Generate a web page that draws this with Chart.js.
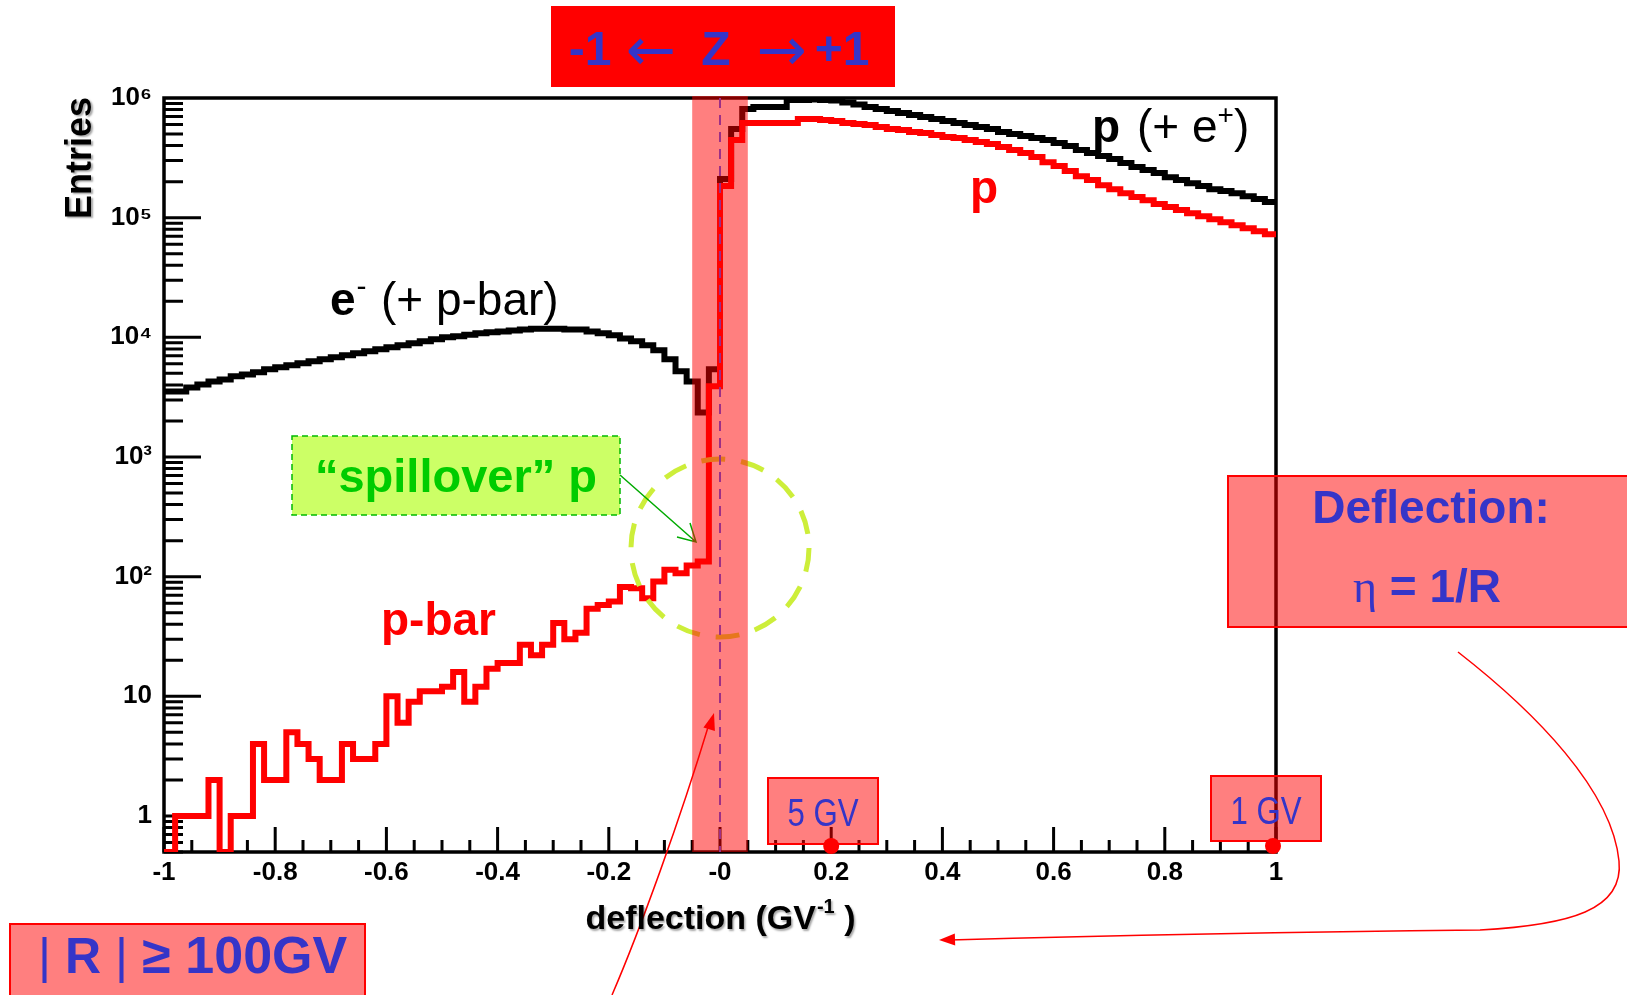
<!DOCTYPE html>
<html>
<head>
<meta charset="utf-8">
<script src="https://cdn.jsdelivr.net/npm/chart.js@4.4.1/dist/chart.umd.min.js"></script>
<style>
  html, body { margin: 0; padding: 0; background: #fff; }
</style>
</head>
<body>
<canvas id="myChart" width="1627" height="995"></canvas>
<script>
// ----------------------------- data -----------------------------
// deflection histogram, 100 bins from -1 to 1 (GV^-1)
const xMin = -1, xMax = 1;
const yMin = 0.5, yMax = 1e6;

// black: e- (+ p-bar), bins 0..49
const eMinusCounts = [3530, 3530, 3815, 4040, 4270, 4450, 4720, 4900, 5100, 5400,
  5610, 5830, 6060, 6300, 6550, 6800, 7070, 7350, 7640, 7940,
  8250, 8570, 8910, 9260, 9620, 10000, 10200, 10500, 10800, 11000,
  11200, 11400, 11600, 11800, 11800, 11800, 11600, 11600, 11200, 10800,
  10400, 9800, 9260, 8570, 7800, 6550, 5200, 4270, 2350, 5400];
// black: p (+ e+), bins 50..99
const pPlusCounts = [210000, 550000, 809000, 841000, 841000, 841000, 962000, 962000, 971000, 962000,
  953000, 916000, 883000, 841000, 809000, 779000, 749000, 720000, 693000, 667000,
  642000, 618000, 595000, 572000, 551000, 520000, 500000, 481000, 463000, 446000,
  420000, 397000, 367000, 347000, 327000, 309000, 286000, 265000, 250000, 236000,
  218000, 206000, 194000, 184000, 173000, 167000, 160000, 151000, 143000, 135000];
// red: p-bar, bins 0..49
const pbarCounts = [0, 1, 1, 1, 2, 0, 1, 1, 4, 2,
  2, 5, 4, 3, 2, 2, 4, 3, 3, 4,
  10, 6, 9, 11, 11, 12, 16, 9, 12, 17,
  19, 19, 27, 22, 27, 41, 30, 34, 54, 58,
  62, 82, 80, 66, 91, 114, 107, 124, 134, 3900];
// red: p, bins 50..99
const protonCounts = [184000, 446000, 618000, 618000, 618000, 618000, 618000, 667000, 667000, 654000,
  642000, 618000, 606000, 595000, 572000, 551000, 540000, 520000, 510000, 490000,
  472000, 463000, 446000, 429000, 412000, 389000, 367000, 347000, 321000, 291000,
  270000, 245000, 222000, 206000, 187000, 173000, 160000, 149000, 140000, 130000,
  123000, 116000, 109000, 103000, 97100, 91600, 86500, 81700, 77100, 72800];

const xTicks = [-1, -0.8, -0.6, -0.4, -0.2, 0, 0.2, 0.4, 0.6, 0.8, 1];
const xTickLabels = ['-1', '-0.8', '-0.6', '-0.4', '-0.2', '-0', '0.2', '0.4', '0.6', '0.8', '1'];
const yTicks = [1, 10, 100, 1e3, 1e4, 1e5, 1e6];
const yTickLabels = ['1', '10', '10²', '10³', '10⁴', '10⁵', '10⁶'];

// ROOT style: empty bins sit on the frame bottom
function histPoints(counts) {
  const w = (xMax - xMin) / counts.length;
  const pts = counts.map((c, i) => ({ x: xMin + i * w, y: c > 0 ? c : yMin }));
  pts.push({ x: xMax, y: pts[pts.length - 1].y });
  return pts;
}

const SANS = '"Liberation Sans", Arial, sans-serif';
const BLUE = '#3535c8';
const PINK = 'rgba(255,0,0,0.5)';

function txt(ctx, s, x, y, font, color, align) {
  ctx.font = font;
  ctx.fillStyle = color;
  ctx.textAlign = align || 'left';
  ctx.textBaseline = 'alphabetic';
  ctx.fillText(s, x, y);
  return ctx.measureText(s).width;
}

// narrow text by squeezing the glyphs horizontally
function narrowTxt(ctx, s, cx, y, size, color) {
  ctx.save();
  ctx.translate(cx, y);
  ctx.scale(0.8, 1);
  txt(ctx, s, 0, 0, size + 'px ' + SANS, color, 'center');
  ctx.restore();
}

function arrowHead(ctx, tx, ty, dx, dy, len, half) {
  const n = Math.hypot(dx, dy), ux = dx / n, uy = dy / n;
  ctx.beginPath();
  ctx.moveTo(tx, ty);
  ctx.lineTo(tx - ux * len - uy * half, ty - uy * len + ux * half);
  ctx.lineTo(tx - ux * len + uy * half, ty - uy * len - ux * half);
  ctx.closePath();
  ctx.fill();
}

// ----------------------------- frame + ROOT ticks -----------------------------
const rootFrame = {
  id: 'rootFrame',
  beforeDatasetsDraw(chart) {
    const { ctx, chartArea: a, scales: { x, y } } = chart;
    ctx.save();
    ctx.strokeStyle = '#000';
    ctx.lineWidth = 3;
    ctx.beginPath();
    for (let e = -1; e < 6; e++) {
      for (let k = 1; k < 10; k++) {
        const v = k * Math.pow(10, e);
        if (v < yMin - 1e-9 || v > yMax) continue;
        const py = y.getPixelForValue(v);
        ctx.moveTo(a.left, py);
        ctx.lineTo(a.left + (k === 1 ? 37 : 19), py);
      }
    }
    for (let i = 0; i <= 40; i++) {
      const px = x.getPixelForValue(-1 + i * 0.05);
      ctx.moveTo(px, a.bottom);
      ctx.lineTo(px, a.bottom - (i % 4 === 0 ? 25 : 12));
    }
    ctx.stroke();
    ctx.lineWidth = 3.5;
    ctx.strokeRect(a.left, a.top, a.right - a.left, a.bottom - a.top);
    ctx.restore();
  }
};

// ----------------------------- annotations -----------------------------
const notes = {
  id: 'notes',
  afterDatasetsDraw(chart) {
    const { ctx, chartArea: a, scales: { x, y } } = chart;
    const x0 = x.getPixelForValue(0);
    ctx.save();

    // "spillover" circle
    ctx.strokeStyle = '#cdee3a';
    ctx.lineWidth = 5;
    ctx.setLineDash([24, 16]);
    ctx.beginPath();
    ctx.arc(x0, 548, 89, 0, Math.PI * 2);
    ctx.stroke();
    ctx.setLineDash([]);

    // green label box + arrow
    ctx.fillStyle = '#ccff66';
    ctx.fillRect(292, 436, 328, 79);
    ctx.strokeStyle = '#00bb00';
    ctx.lineWidth = 1.5;
    ctx.setLineDash([6, 4]);
    ctx.strokeRect(292, 436, 328, 79);
    ctx.setLineDash([]);
    txt(ctx, '“spillover” p', 456, 492, 'bold 47px ' + SANS, '#00cc00', 'center');
    ctx.strokeStyle = '#00aa00';
    ctx.lineWidth = 1.5;
    ctx.beginPath();
    ctx.moveTo(620, 475);
    ctx.lineTo(696, 542);
    ctx.moveTo(677, 537);
    ctx.lineTo(696, 542);
    ctx.lineTo(690, 523);
    ctx.stroke();

    // |Z| = 1 band and zero line
    const b0 = x.getPixelForValue(-0.05), b1 = x.getPixelForValue(0.05);
    ctx.fillStyle = PINK;
    ctx.fillRect(b0, a.top - 2, b1 - b0, a.bottom - a.top + 2);
    ctx.strokeStyle = '#9c2f86';
    ctx.lineWidth = 2;
    ctx.setLineDash([10, 7]);
    ctx.beginPath();
    ctx.moveTo(x0, a.top);
    ctx.lineTo(x0, a.bottom);
    ctx.stroke();
    ctx.setLineDash([]);

    // curve labels
    const N46 = '46px ' + SANS, B46 = 'bold 46px ' + SANS;
    let cx = 330;
    cx += txt(ctx, 'e', cx, 315, B46, '#000');
    txt(ctx, '-', cx + 1, 296, '30px ' + SANS, '#000');
    txt(ctx, '(+ p-bar)', 381, 315, N46, '#000');

    cx = 1092;
    txt(ctx, 'p', cx, 142, B46, '#000');
    cx = 1137;
    cx += txt(ctx, '(+ e', cx, 142, N46, '#000');
    cx += txt(ctx, '+', cx, 124, '28px ' + SANS, '#000');
    txt(ctx, ')', cx, 142, N46, '#000');

    txt(ctx, 'p', 970, 203, B46, '#ff0000');
    txt(ctx, 'p-bar', 381, 635, B46, '#ff0000');
    ctx.restore();
  },
  afterDraw(chart) {
    const { ctx, chartArea: a, scales: { x } } = chart;
    ctx.save();

    // charge banner
    ctx.fillStyle = '#ff0000';
    ctx.fillRect(551, 6, 344, 81);
    txt(ctx, '-1', 590, 65, 'bold 48px ' + SANS, BLUE, 'center');
    txt(ctx, '←', 651, 70, '60px "DejaVu Sans", ' + SANS, BLUE, 'center');
    txt(ctx, 'Z', 716, 65, 'bold 48px ' + SANS, BLUE, 'center');
    txt(ctx, '→', 782, 70, '60px "DejaVu Sans", ' + SANS, BLUE, 'center');
    txt(ctx, '+1', 842, 65, 'bold 48px ' + SANS, BLUE, 'center');

    // rigidity markers
    ctx.fillStyle = PINK;
    ctx.strokeStyle = '#ff0000';
    ctx.lineWidth = 2;
    ctx.fillRect(768, 778, 110, 66);
    ctx.strokeRect(768, 778, 110, 66);
    ctx.fillStyle = PINK;
    ctx.fillRect(1211, 776, 110, 65);
    ctx.strokeRect(1211, 776, 110, 65);
    narrowTxt(ctx, '5 GV', 823, 826, 39, BLUE);
    narrowTxt(ctx, '1 GV', 1266, 824, 39, BLUE);
    ctx.fillStyle = '#ff0000';
    [0.2, 1].forEach(v => {
      ctx.beginPath();
      ctx.arc(x.getPixelForValue(v) - (v === 1 ? 3 : 0), a.bottom - 6, 8, 0, Math.PI * 2);
      ctx.fill();
    });

    // Deflection box
    ctx.fillStyle = PINK;
    ctx.fillRect(1228, 476, 420, 151);
    ctx.strokeRect(1228, 476, 420, 151);
    txt(ctx, 'Deflection:', 1431, 523, 'bold 46px ' + SANS, BLUE, 'center');
    let cx = 1353;
    cx += txt(ctx, 'η', cx, 602, '46px "Liberation Serif", serif', BLUE);
    txt(ctx, ' = 1/R', cx, 602, 'bold 46px ' + SANS, BLUE);

    // |R| box
    ctx.fillStyle = PINK;
    ctx.fillRect(10, 924, 355, 90);
    ctx.strokeRect(10, 924, 355, 90);
    cx = 38;
    cx += txt(ctx, '|', cx, 973, '50px ' + SANS, BLUE);
    cx += txt(ctx, ' R ', cx, 973, 'bold 50px ' + SANS, BLUE);
    cx += txt(ctx, '|', cx, 973, '50px ' + SANS, BLUE);
    txt(ctx, ' ≥ 100GV', cx, 973, 'bold 52px ' + SANS, BLUE);

    // red pointer curves
    ctx.strokeStyle = '#ff0000';
    ctx.fillStyle = '#ff0000';
    ctx.lineWidth = 1.5;
    ctx.beginPath();
    ctx.moveTo(1458, 652);
    ctx.bezierCurveTo(1535, 712, 1612, 790, 1619, 861);
    ctx.bezierCurveTo(1624, 910, 1570, 925, 1480, 930);
    ctx.quadraticCurveTo(1200, 933, 950, 940);
    ctx.stroke();
    arrowHead(ctx, 939, 940, -1, 0.03, 16, 6);
    ctx.beginPath();
    ctx.moveTo(612, 995);
    ctx.bezierCurveTo(640, 930, 680, 820, 709, 724);
    ctx.stroke();
    arrowHead(ctx, 714, 713, 31, -104, 17, 6);

    // axis titles
    ctx.shadowColor = 'rgba(0,0,0,0.35)';
    ctx.shadowBlur = 2;
    ctx.shadowOffsetX = 1.5;
    ctx.shadowOffsetY = 1.5;
    ctx.save();
    ctx.translate(91, 97);
    ctx.rotate(-Math.PI / 2);
    txt(ctx, 'Entries', 0, 0, 'bold 36px ' + SANS, '#000', 'right');
    ctx.restore();

    const T = 'bold 34px ' + SANS, TS = 'bold 20px ' + SANS;
    ctx.font = T;
    const w1 = ctx.measureText('deflection (GV').width;
    const w3 = ctx.measureText(' )').width;
    ctx.font = TS;
    const w2 = ctx.measureText('-1').width;
    cx = x.getPixelForValue(0) - (w1 + w2 + w3) / 2;
    cx += txt(ctx, 'deflection (GV', cx, 929, T, '#000');
    cx += txt(ctx, '-1', cx + 1, 913, TS, '#000') + 1;
    txt(ctx, ' )', cx, 929, T, '#000');
    ctx.restore();
  }
};

// ----------------------------- chart -----------------------------
const pickChart = document.getElementById('myChart');
const drawChart = new Chart(pickChart, {
  type: 'line',
  data: {
    datasets: [
      {
        label: 'p-bar / p',
        data: histPoints(pbarCounts.concat(protonCounts)),
        borderColor: '#ff0000',
        borderWidth: 6,
        stepped: true,
        pointRadius: 0,
        fill: false,
        borderJoinStyle: 'miter',
      },
      {
        label: 'e- (+ p-bar) / p (+ e+)',
        data: histPoints(eMinusCounts.concat(pPlusCounts)),
        borderColor: '#000000',
        borderWidth: 6,
        stepped: true,
        pointRadius: 0,
        fill: false,
        borderJoinStyle: 'miter',
      },
    ],
  },
  options: {
    responsive: false,
    animation: false,
    devicePixelRatio: 1,
    layout: { padding: { left: 0, top: 98, right: 351, bottom: 0 } },
    plugins: { legend: { display: false }, tooltip: { enabled: false } },
    scales: {
      x: {
        type: 'linear',
        min: xMin,
        max: xMax,
        grid: { display: false, drawTicks: false },
        border: { display: false },
        afterBuildTicks: s => { s.ticks = xTicks.map(v => ({ value: v })); },
        afterFit: s => { s.height = 143; },
        ticks: {
          autoSkip: false,
          maxRotation: 0,
          padding: 5,
          color: '#000',
          font: { family: SANS, size: 26, weight: 'bold' },
          callback: (v, i) => xTickLabels[i],
        },
      },
      y: {
        type: 'logarithmic',
        min: yMin,
        max: yMax,
        grid: { display: false, drawTicks: false },
        border: { display: false },
        afterBuildTicks: s => { s.ticks = yTicks.map(v => ({ value: v })); },
        afterFit: s => { s.width = 164; },
        ticks: {
          autoSkip: false,
          padding: 12,
          color: '#000',
          font: { family: SANS, size: 26, weight: 'bold' },
          callback: (v, i) => yTickLabels[i],
        },
      },
    },
  },
  plugins: [rootFrame, notes],
});
</script>
</body>
</html>
